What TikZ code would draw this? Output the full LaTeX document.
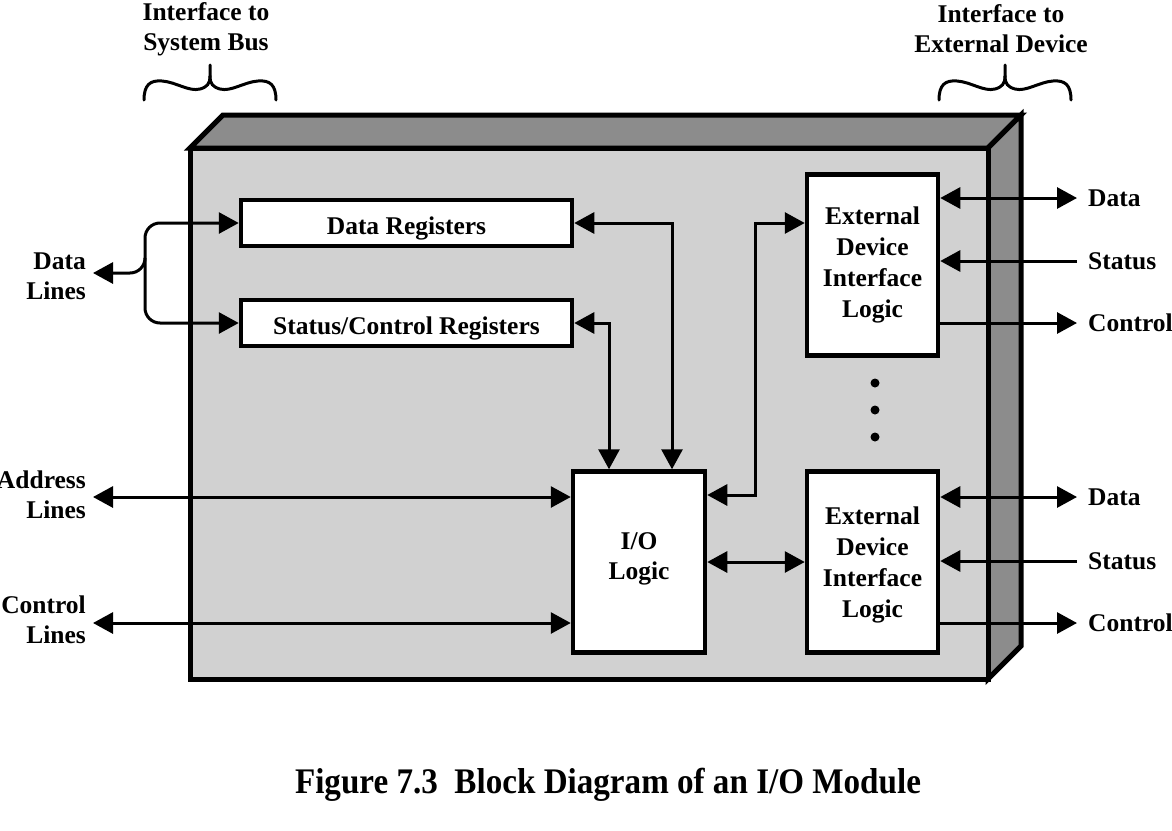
\documentclass[tikz,border=0pt]{standalone}
\usepackage{fontspec}
\setmainfont{Liberation Serif}
\usetikzlibrary{arrows.meta,calc}
\definecolor{frontgray}{gray}{0.82}
\definecolor{sidegray}{gray}{0.55}
\tikzset{
  blockbox/.style={draw,line width=4.5pt,fill=white,inner sep=0pt,align=center,
    font=\fontsize{25.5}{31}\selectfont\bfseries},
  lbl/.style={inner sep=0pt,font=\fontsize{25.5}{30}\selectfont\bfseries},
  conn/.style={line width=3pt,-{Triangle[length=20pt,width=21pt]}},
  dbl/.style={line width=3pt,{Triangle[length=20pt,width=21pt]}-{Triangle[length=20pt,width=21pt]}},
  bracepath/.style={line width=3pt,line cap=round},
}
\begin{document}
\begin{tikzpicture}[x=1pt,y=-1pt,line join=miter]
\useasboundingbox (0,0) rectangle (1172,830);
% 3D module box
\draw[line width=5pt,fill=sidegray] (190,148) -- (223,115) -- (1021,115) -- (988,148) -- cycle;
\draw[line width=5pt,fill=sidegray] (988,148) -- (1021,115) -- (1021,646) -- (988,679) -- cycle;
\draw[line width=5pt,fill=frontgray] (190,148) rectangle (988,679);
% blocks
\node[blockbox,minimum width=331pt,minimum height=46pt,text height=22.8pt,text depth=0pt] (dreg) at (406.5,223) {Data Registers};
\node[blockbox,minimum width=331pt,minimum height=46pt,text height=22.8pt,text depth=0pt] (sreg) at (406.5,323) {Status/Control Registers};
\node[blockbox,minimum width=132pt,minimum height=181pt,text depth=11pt] (io) at (639,562) {I/O\\[-1pt]Logic};
\node[blockbox,minimum width=131pt,minimum height=181pt] (ext1) at (872.5,265) {External\\Device\\Interface\\Logic};
\node[blockbox,minimum width=131pt,minimum height=181pt,text depth=0pt] (ext2) at (872.5,562) {External\\Device\\Interface\\Logic};
% dots
\fill (875,383) circle (4.5pt) (875,410) circle (4.5pt) (875,437) circle (4.5pt);
% internal connectors
\draw[dbl] (dreg.east) -| ([xshift=33pt]io.north);
\draw[dbl] (sreg.east) -| ([xshift=-30pt]io.north);
\draw[dbl] ([yshift=67pt]io.east) -- ++(48,0) |- ([yshift=42pt]ext1.west);
\draw[dbl] (io.east) -- (ext2.west);
% left labels
\node[lbl,align=right,anchor=east] (dlab) at (86,276) {Data\\Lines};
\node[lbl,align=right,anchor=east] (alab) at (86,495) {Address\\Lines};
\node[lbl,align=right,anchor=east] (clab) at (86,620) {Control\\Lines};
\coordinate (dl) at (93,273);
\coordinate (al) at (93,497);
\coordinate (cl) at (93,623);
\draw[dbl,rounded corners=15pt] (dl) -- (145,273) |- (dreg.west);
\draw[conn,rounded corners=15pt] (145,260) -- (145,273) |- (sreg.west);
\draw[dbl] (al) -- (al -| io.west);
\draw[dbl] (cl) -- (cl -| io.west);
% right labels and connectors
\node[lbl,anchor=west] (d1) at (1088,198) {Data};
\node[lbl,anchor=west] (s1) at (1088,261) {Status};
\node[lbl,anchor=west] (c1) at (1088,323) {Control};
\node[lbl,anchor=west] (d2) at (1088,497) {Data};
\node[lbl,anchor=west] (s2) at (1088,561) {Status};
\node[lbl,anchor=west] (c2) at (1088,623) {Control};
\draw[dbl] (ext1.east |- d1.west) -- ([xshift=-11pt]d1.west);
\draw[conn] ([xshift=-11pt]s1.west) -- (ext1.east |- s1.west);
\draw[conn] (ext1.east |- c1.west) -- ([xshift=-11pt]c1.west);
\draw[dbl] (ext2.east |- d2.west) -- ([xshift=-11pt]d2.west);
\draw[conn] ([xshift=-11pt]s2.west) -- (ext2.east |- s2.west);
\draw[conn] (ext2.east |- c2.west) -- ([xshift=-11pt]c2.west);
% braces and their labels
\node[lbl,align=center] (ib) at (206,29) {Interface to\\System Bus};
\node[lbl,align=center] (ie) at (1001,29) {Interface to\\External Device};
\foreach \sh in {0,795}{
\begin{scope}[xshift=\sh pt]
\draw[bracepath] (144,100) .. controls (144,85) and (150,80) .. (162,81)
  .. controls (176,82) and (189,92) .. (200,89)
  .. controls (207,87) and (210,84) .. (210,76) -- (210,65);
\draw[bracepath] (210,76) .. controls (210,84) and (213,87) .. (220,89)
  .. controls (231,92) and (244,82) .. (258,81)
  .. controls (270,80) and (276,85) .. (276,100);
\end{scope}}
% title
\node[inner sep=0pt] (title) at (608,785) {\scalebox{0.92}[1]{\fontsize{36}{40}\selectfont\bfseries Figure 7.3\ \ Block Diagram of an I/O Module}};
\end{tikzpicture}
\end{document}
